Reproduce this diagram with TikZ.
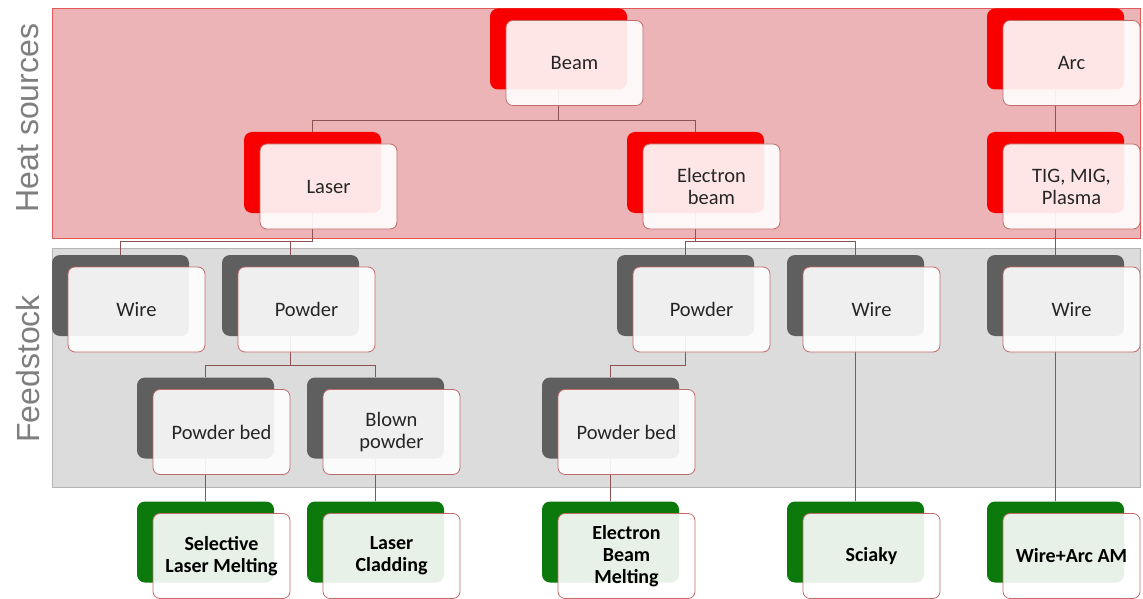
\documentclass[tikz,border=0pt]{standalone}
\usepackage{fontspec}
\setmainfont{Carlito}
\newfontfamily\arialf{Liberation Sans}
\definecolor{heatfill}{HTML}{ECB4B6}
\definecolor{heatedge}{HTML}{E05A5A}
\definecolor{feedfill}{HTML}{DCDCDC}
\definecolor{feededge}{HTML}{B4B4B4}
\definecolor{srcred}{HTML}{F80000}
\definecolor{fsgray}{HTML}{5F5F5F}
\definecolor{outgreen}{HTML}{0B790B}
\definecolor{cardedge}{HTML}{C46A6A}
\definecolor{connc}{HTML}{8E5252}
\definecolor{txt}{HTML}{262626}
\definecolor{lbl}{HTML}{7F7F7F}
\pgfdeclarelayer{bands}
\pgfdeclarelayer{lines}
\pgfsetlayers{bands,lines,main}
\newcommand\mkpair[6]{%
  \node[#2] (#1S) at (#3,#4) {};
  \node[#5] (#1) at ([xshift=16pt,yshift=-14pt]#1S.center) {#6};}
\begin{document}
\begin{tikzpicture}[x=1pt,y=-1pt,
  shad/.style={rounded corners=8pt, minimum width=137pt, minimum height=81pt, inner sep=0pt, draw=none},
  redS/.style={shad, fill=srcred},
  grayS/.style={shad, fill=fsgray},
  greenS/.style={shad, fill=outgreen},
  card/.style={rounded corners=7pt, minimum width=137pt, minimum height=85pt, inner sep=2pt,
    fill=white, fill opacity=0.9, text opacity=1, draw=cardedge, line width=0.8pt,
    align=center, text=txt, font=\fontsize{20.5}{22}\selectfont},
  cardb/.style={card, font=\bfseries\fontsize{20}{22}\selectfont, text=black},
  conn/.style={draw=connc, line width=0.9pt},
  band/.style={line width=0.8pt},
  sidelbl/.style={rotate=90, text=lbl, font=\arialf\fontsize{32}{34}\selectfont}]
\useasboundingbox (0,0) rectangle (1143,599);

% bands
\begin{pgfonlayer}{bands}
\fill[white] (0,0) rectangle (1143,599);
\draw[band, fill=heatfill, draw=heatedge] (52,8) rectangle (1140,238);
\draw[band, fill=feedfill, draw=feededge] (52,248) rectangle (1140,487);
\end{pgfonlayer}

\node[sidelbl] (hs) at (28,118) {Heat sources};
\node[sidelbl] (fs) at (28,369) {Feedstock};

% heat sources
\mkpair{beam}{redS}{558.5}{49}{card}{Beam}
\mkpair{arc}{redS}{1055.5}{49}{card}{Arc}
\mkpair{laser}{redS}{312.5}{172.5}{card}{Laser}
\mkpair{eb}{redS}{695.5}{172.5}{card}{Electron\\beam}
\mkpair{tig}{redS}{1055.5}{172.5}{card}{TIG, MIG,\\Plasma}
% feedstock
\mkpair{wireA}{grayS}{120.5}{295.5}{card}{Wire}
\mkpair{powA}{grayS}{290.5}{295.5}{card}{Powder}
\mkpair{powB}{grayS}{685.5}{295.5}{card}{Powder}
\mkpair{wireB}{grayS}{855.5}{295.5}{card}{Wire}
\mkpair{wireC}{grayS}{1055.5}{295.5}{card}{Wire}
\mkpair{pbA}{grayS}{205.5}{418}{card}{Powder bed}
\mkpair{blown}{grayS}{375.5}{418}{card}{Blown\\powder}
\mkpair{pbB}{grayS}{610.5}{418}{card}{Powder bed}
% processes
\mkpair{slm}{greenS}{205.5}{542}{cardb}{Selective\\Laser Melting}
\mkpair{lc}{greenS}{375.5}{542}{cardb}{Laser\\Cladding}
\mkpair{ebm}{greenS}{610.5}{542}{cardb}{Electron\\Beam\\Melting}
\mkpair{sciaky}{greenS}{855.5}{542}{cardb}{Sciaky}
\mkpair{waam}{greenS}{1055.5}{542}{cardb}{Wire+Arc AM}

% connector levels
\coordinate (lv1) at (0,120);
\coordinate (lv2) at (0,241);
\coordinate (lv3) at (0,365);

\begin{pgfonlayer}{lines}
\draw[conn] (beamS.south) -- (beamS.south |- lv1) -| (laserS.north);
\draw[conn] (beamS.south |- lv1) -| (ebS.north);
\draw[conn] (arcS.south) -- (tigS.north);
\draw[conn] (laserS.south) -- (laserS.south |- lv2) -| (wireAS.north);
\draw[conn] (laserS.south |- lv2) -| (powAS.north);
\draw[conn] (ebS.south) -- (ebS.south |- lv2) -| (powBS.north);
\draw[conn] (ebS.south |- lv2) -| (wireBS.north);
\draw[conn] (tigS.south) -- (wireCS.north);
\draw[conn] (powAS.south) -- (powAS.south |- lv3) -| (pbAS.north);
\draw[conn] (powAS.south |- lv3) -| (blownS.north);
\draw[conn] (powBS.south) -- (powBS.south |- lv3) -| (pbBS.north);
\draw[conn] (pbAS.south) -- (slmS.north);
\draw[conn] (blownS.south) -- (lcS.north);
\draw[conn] (pbBS.south) -- (ebmS.north);
\draw[conn] (wireBS.south) -- (sciakyS.north);
\draw[conn] (wireCS.south) -- (waamS.north);
\end{pgfonlayer}
\end{tikzpicture}
\end{document}
